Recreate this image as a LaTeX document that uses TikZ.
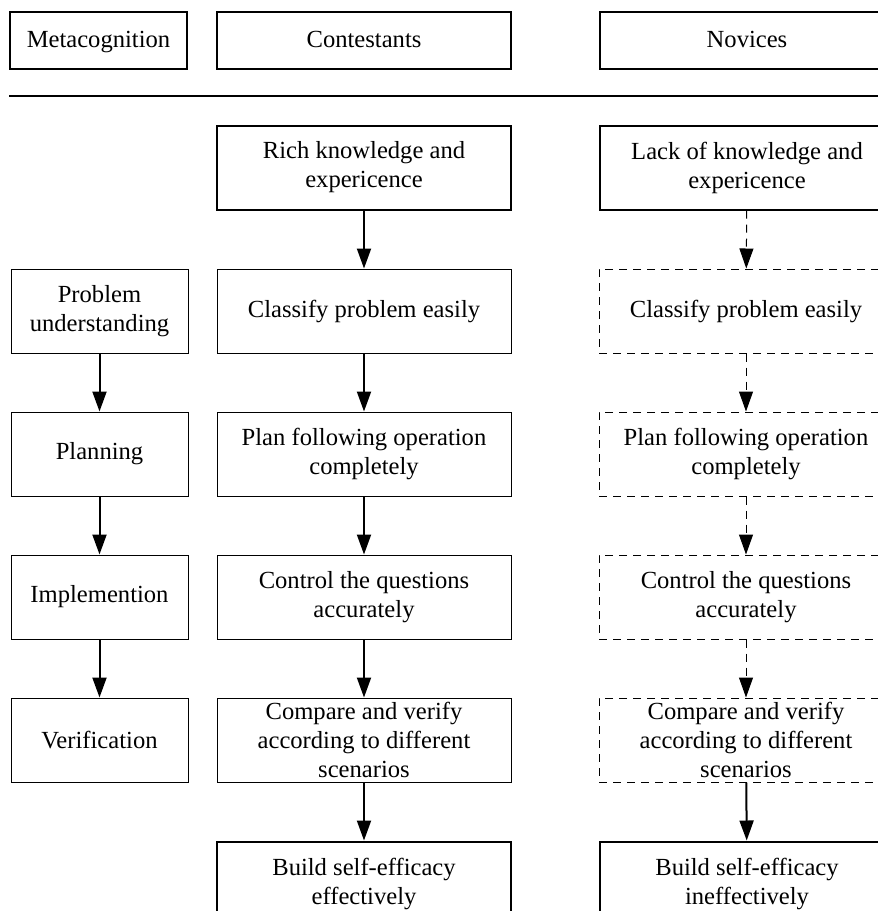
\documentclass[tikz,border=0pt]{standalone}
\usepackage{fontspec}
\setmainfont{Liberation Serif}
\usetikzlibrary{arrows.meta,positioning}

\begin{document}
\begin{tikzpicture}[
  box/.style={draw, line width=0.5pt, minimum width=147pt, minimum height=42pt,
              inner sep=1pt, align=center, font=\fontsize{12.3pt}{14.5pt}\selectfont},
  boldbox/.style={box, line width=1pt},
  headbox/.style={boldbox, minimum height=28.5pt, text height=9.5pt, text depth=2.5pt},
  stagebox/.style={box, minimum width=88.5pt},
  dashbox/.style={box, dash pattern=on 4pt off 3pt},
  arr/.style={-{Triangle[length=10pt, width=7pt]}, line width=1pt},
  darr/.style={-{Triangle[length=10pt, width=7pt]}, line width=0.5pt, dash pattern=on 4pt off 3pt}
]
  \useasboundingbox (0,0) rectangle (439pt,-455.5pt);
  \clip (0,0) rectangle (439pt,-455.5pt);

  % header row
  \node[headbox, minimum width=88.5pt, anchor=north west] (meta) at (4.5pt,-5.25pt) {Metacognition};
  \node[headbox, right=14pt of meta]     (contest) {Contestants};
  \node[headbox, right=43.5pt of contest] (novice)  {Novices};

  \coordinate (sepL) at (4.5pt,-47.9pt);
  \coordinate (sepR) at (439pt,-47.9pt);
  \draw[line width=1pt] (sepL) -- (sepR);

  % contestants
  \node[boldbox, below=27.5pt of contest] (rich)   {Rich knowledge and\\expericence};
  \node[box, below=29pt of rich]     (classA)  {Classify problem easily};
  \node[box, below=29pt of classA]   (planA)   {Plan following operation\\completely};
  \node[box, below=29pt of planA]    (ctrlA)   {Control the questions\\accurately};
  \node[box, below=29pt of ctrlA]    (verA)    {Compare and verify\\according to different\\scenarios};
  \node[boldbox, below=29pt of verA] (buildA)  {Build self-efficacy\\effectively};

  % metacognition stages
  \node[stagebox, left=14pt of classA] (underst) {Problem\\understanding};
  \node[stagebox, left=14pt of planA]  (plan)    {Planning};
  \node[stagebox, left=14pt of ctrlA]  (impl)    {Implemention};
  \node[stagebox, left=14pt of verA]   (verif)   {Verification};

  % novices
  \node[boldbox, right=43.5pt of rich]   (lack)   {Lack of knowledge and\\expericence};
  \node[dashbox, right=43.5pt of classA] (classB) {Classify problem easily};
  \node[dashbox, right=43.5pt of planA]  (planB)  {Plan following operation\\completely};
  \node[dashbox, right=43.5pt of ctrlA]  (ctrlB)  {Control the questions\\accurately};
  \node[dashbox, right=43.5pt of verA]   (verB)   {Compare and verify\\according to different\\scenarios};
  \node[boldbox, right=43.5pt of buildA] (buildB) {Build self-efficacy\\ineffectively};

  \draw[arr] (underst) -- (plan);
  \draw[arr] (plan) -- (impl);
  \draw[arr] (impl) -- (verif);

  \draw[arr] (rich) -- (classA);
  \draw[arr] (classA) -- (planA);
  \draw[arr] (planA) -- (ctrlA);
  \draw[arr] (ctrlA) -- (verA);
  \draw[arr] (verA) -- (buildA);

  \draw[darr] (lack) -- (classB);
  \draw[darr] (classB) -- (planB);
  \draw[darr] (planB) -- (ctrlB);
  \draw[darr] (ctrlB) -- (verB);
  \draw[arr] (verB) -- (buildB);
\end{tikzpicture}
\end{document}
